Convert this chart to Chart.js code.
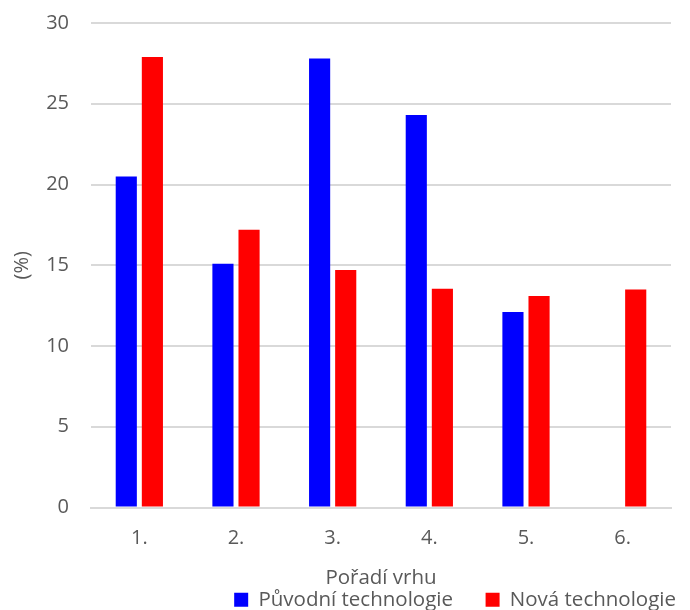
<!DOCTYPE html>
<html>
<head>
<meta charset="utf-8">
<script src="https://cdn.jsdelivr.net/npm/chart.js@4/dist/chart.umd.min.js"></script>
<style>
  html, body { margin: 0; padding: 0; background: #fff; }
  #wrap { width: 690px; height: 610px; }
</style>
</head>
<body>
<div id="wrap"><canvas id="chart"></canvas></div>
<script>
const categories = ['1.', '2.', '3.', '4.', '5.', '6.'];
const puvodni = [20.5, 15.1, 27.8, 24.3, 12.1, null];
const nova = [27.9, 17.2, 14.7, 13.55, 13.1, 13.5];
const seriesNames = ['Původní technologie', 'Nová technologie'];

const textColor = '#595959';
const gridColor = '#d9d9d9';
const fontFamily = '"Open Sans", "Noto Sans", sans-serif';

new Chart(document.getElementById('chart'), {
  type: 'bar',
  data: {
    labels: categories,
    datasets: [
      { label: seriesNames[0], data: puvodni, backgroundColor: '#0000ff', borderWidth: 0 },
      { label: seriesNames[1], data: nova, backgroundColor: '#ff0000', borderWidth: 0 }
    ]
  },
  options: {
    responsive: true,
    maintainAspectRatio: false,
    animation: false,
    categoryPercentage: 0.54,
    barPercentage: 0.81,
    layout: { padding: { top: 23, right: 8, left: 10, bottom: -10 } },
    plugins: {
      tooltip: { enabled: false },
      legend: {
        position: 'bottom',
        align: 'end',
        labels: {
          color: textColor,
          font: { family: fontFamily, size: 20.5 },
          boxWidth: 14,
          boxHeight: 14,
          padding: 6,
          // extra space after the first item, like the original legend
          generateLabels: (chart) => Chart.defaults.plugins.legend.labels.generateLabels(chart)
            .map((item, i) => ({ ...item, text: i === 0 ? item.text + '     ' : item.text }))
        }
      }
    },
    scales: {
      x: {
        grid: { display: false, drawTicks: false },
        border: { color: gridColor, width: 2 },
        ticks: { color: textColor, font: { family: fontFamily, size: 20 }, padding: 19 },
        title: { display: true, text: 'Pořadí vrhu', color: textColor, font: { family: fontFamily, size: 20.5 }, padding: { top: 0, bottom: -7 } },
        afterFit: (scale) => { scale.height = 76; }
      },
      y: {
        min: 0,
        max: 30,
        ticks: { stepSize: 5, color: textColor, font: { family: fontFamily, size: 20 }, padding: 22 },
        grid: { color: gridColor, lineWidth: 2, drawTicks: false },
        border: { display: false },
        title: { display: true, text: '(%)', color: textColor, font: { family: fontFamily, size: 20 }, padding: 0 },
        afterFit: (scale) => { scale.width = 81; scale.paddingTop = 0; }
      },
      // empty right axis, only keeps the plot edge off the legend edge
      yRight: {
        position: 'right',
        display: true,
        grid: { display: false, drawTicks: false },
        border: { display: false },
        ticks: { display: false },
        afterFit: (scale) => { scale.width = 11; scale.paddingTop = 0; }
      }
    }
  }
});
</script>
</body>
</html>
